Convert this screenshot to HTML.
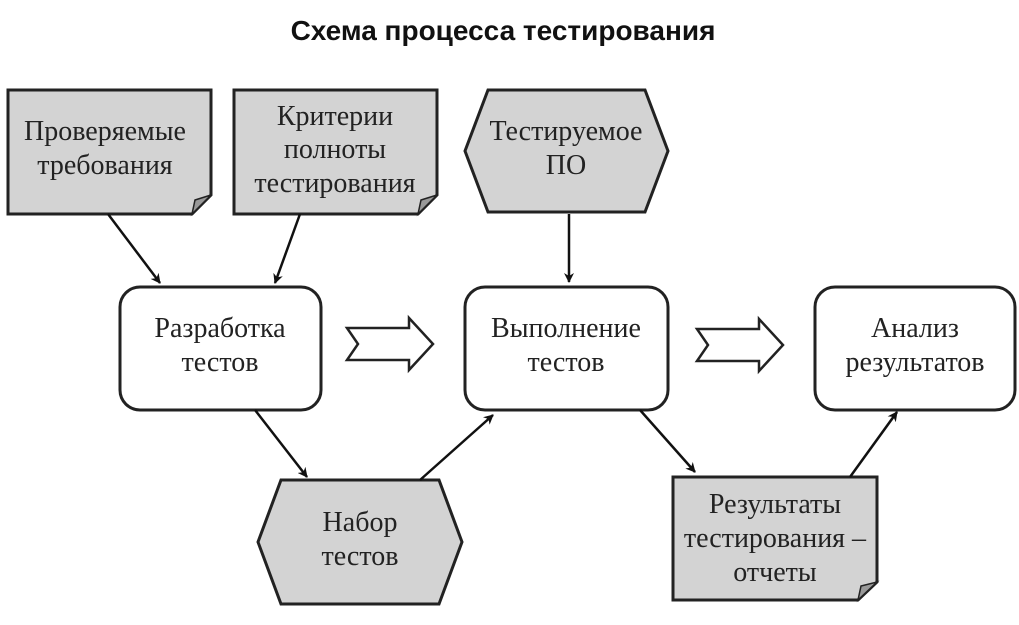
<!DOCTYPE html>
<html><head><meta charset="utf-8"><style>
html,body{margin:0;padding:0;background:#fff}
svg{display:block}
.t{font-family:"Liberation Serif",serif;font-size:28px;fill:#222;text-anchor:middle}
</style></head><body>
<svg width="1019" height="625" viewBox="0 0 1019 625" xmlns="http://www.w3.org/2000/svg">
<defs>
<marker id="a" markerWidth="10" markerHeight="10" refX="9" refY="5" orient="auto" markerUnits="userSpaceOnUse" viewBox="0 0 10 10">
<path d="M0,0 L10,5 L0,10 L3,5 Z" fill="#111"/></marker>
</defs>
<text x="503" y="40" font-family="Liberation Sans,sans-serif" font-weight="bold" font-size="28" text-anchor="middle" fill="#111">Схема процесса тестирования</text>
<g stroke="#222" stroke-width="3" fill="#d3d3d3">
<path d="M8,90 H211 V195 L192,214 H8 Z"/>
<path d="M234,90 H437 V195 L418,214 H234 Z"/>
<path d="M488,90 H645 L668,151 L645,212 H488 L465,151 Z"/>
<path d="M281,480 H439 L462,542 L439,604 H281 L258,542 Z"/>
<path d="M673,477 H877 V582 L858,600 H673 Z"/>
</g>
<g fill="#999" stroke="#222" stroke-width="1.5">
<path d="M192,214 L195,200 L211,195 Z"/>
<path d="M418,214 L421,200 L437,195 Z"/>
<path d="M858,600 L861,586 L877,582 Z"/>
</g>
<g stroke="#222" stroke-width="3" fill="#fff">
<rect x="120" y="287" width="201" height="123" rx="20"/>
<rect x="465" y="287" width="203" height="123" rx="20"/>
<rect x="815" y="287" width="200" height="123" rx="20"/>
<path d="M347,328 H409 V318 L433,344 L409,370 V360 H347 L358,344 Z" stroke-width="2.5"/>
<path d="M697,329 H759 V319 L783,345 L759,371 V361 H697 L708,345 Z" stroke-width="2.5"/>
</g>
<g stroke="#111" stroke-width="2.5" marker-end="url(#a)">
<line x1="108" y1="214" x2="160" y2="283"/>
<line x1="300" y1="214" x2="275" y2="283"/>
<line x1="569" y1="214" x2="569" y2="282"/>
<line x1="255" y1="410" x2="307" y2="477"/>
<line x1="420" y1="480" x2="493" y2="415"/>
<line x1="640" y1="410" x2="695" y2="472"/>
<line x1="850" y1="477" x2="897" y2="412"/>
</g>
<g class="t">
<text x="105" y="140">Проверяемые</text>
<text x="105" y="174">требования</text>
<text x="335" y="125">Критерии</text>
<text x="335" y="158">полноты</text>
<text x="335" y="192">тестирования</text>
<text x="566" y="140">Тестируемое</text>
<text x="566" y="174">ПО</text>
<text x="220" y="337">Разработка</text>
<text x="220" y="371">тестов</text>
<text x="566" y="337">Выполнение</text>
<text x="566" y="371">тестов</text>
<text x="915" y="337">Анализ</text>
<text x="915" y="371">результатов</text>
<text x="360" y="531">Набор</text>
<text x="360" y="565">тестов</text>
<text x="775" y="513">Результаты</text>
<text x="775" y="547">тестирования –</text>
<text x="775" y="581">отчеты</text>
</g>
</svg>
</body></html>
